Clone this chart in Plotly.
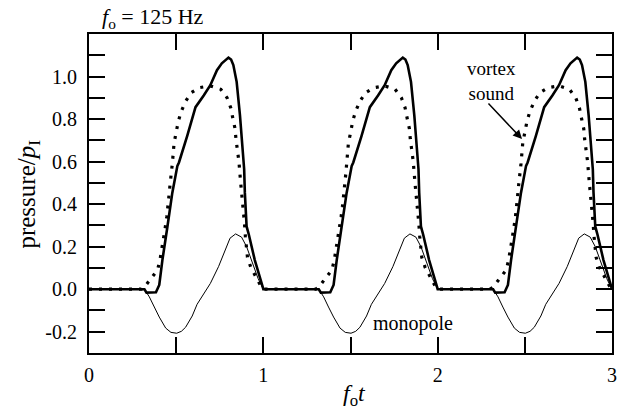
import plotly.graph_objects as go

# One period (0..1); the signal repeats each period
cycles = [0, 1, 2]

solid_x = [0.0, 0.318, 0.33, 0.384, 0.403, 0.421, 0.45, 0.478, 0.507, 0.516, 0.563, 0.611,
           0.658, 0.696, 0.734, 0.762, 0.8, 0.815, 0.828, 0.847, 0.866, 0.879, 0.89, 0.894,
           0.904, 0.917, 0.951, 0.998]
solid_y = [0.0, 0.0, -0.016, -0.014, 0.02, 0.137, 0.295, 0.454, 0.58, 0.596, 0.72, 0.856,
           0.911, 0.959, 1.03, 1.062, 1.089, 1.08, 1.054, 0.975, 0.817, 0.659, 0.564, 0.454,
           0.295, 0.256, 0.137, 0.006]

dot_x = [0.0, 0.30, 0.318, 0.355, 0.393, 0.407, 0.418, 0.427, 0.437, 0.446, 0.454, 0.459,
         0.465, 0.473, 0.478, 0.488, 0.501, 0.512, 0.529, 0.554, 0.586, 0.635, 0.696, 0.756,
         0.792, 0.813, 0.826, 0.838, 0.843, 0.851, 0.86, 0.87, 0.876, 0.881, 0.889, 0.892,
         0.897, 0.904, 0.909, 0.928, 0.957, 0.985, 1.0]
dot_y = [0.0, 0.0, 0.01, 0.047, 0.09, 0.137, 0.188, 0.237, 0.288, 0.34, 0.39, 0.442,
         0.493, 0.542, 0.59, 0.687, 0.738, 0.788, 0.836, 0.883, 0.924, 0.948, 0.956, 0.94,
         0.9, 0.853, 0.80, 0.754, 0.706, 0.655, 0.6, 0.5, 0.454, 0.406, 0.355, 0.308,
         0.248, 0.198, 0.15, 0.103, 0.058, 0.016, 0.0]

mono_x = [0.0, 0.318, 0.346, 0.374, 0.403, 0.44, 0.47, 0.503, 0.53, 0.554, 0.592, 0.62, 0.648,
          0.696, 0.743, 0.781, 0.809, 0.841, 0.875, 0.904, 0.936, 0.97, 0.998]
mono_y = [0.0, 0.0, -0.036, -0.084, -0.131, -0.183, -0.203, -0.207, -0.198, -0.179, -0.126,
          -0.071, -0.036, 0.027, 0.106, 0.185, 0.24, 0.26, 0.245, 0.2, 0.122, 0.05, 0.003]

x_ticks = [0, 0.5, 1, 1.5, 2, 2.5, 3]
x_labels = ["0", "", "1", "", "2", "", "3"]
y_ticks = [-0.3, -0.2, -0.1, 0.0, 0.1, 0.2, 0.3, 0.4, 0.5, 0.6, 0.7, 0.8, 0.9, 1.0, 1.1, 1.2]
y_labels = ["", "-0.2", "", "0.0", "", "0.2", "", "0.4", "", "0.6", "", "0.8", "", "1.0", "", ""]


def tile(xs, ys):
    X, Y = [], []
    for c in cycles:
        X += [x + c for x in xs]
        Y += ys
    return X, Y


FONT = "Liberation Serif"
fig = go.Figure()

mx, my = tile(mono_x, mono_y)
fig.add_trace(go.Scatter(x=mx, y=my, mode="lines", line=dict(color="black", width=1.0)))
dx, dy = tile(dot_x, dot_y)
fig.add_trace(go.Scatter(x=dx, y=dy, mode="lines",
                         line=dict(color="black", width=3.2, dash="3px,7px")))
sx, sy = tile(solid_x, solid_y)
fig.add_trace(go.Scatter(x=sx, y=sy, mode="lines", line=dict(color="black", width=2.6)))

axis_common = dict(showline=True, linecolor="black", linewidth=2, mirror="ticks",
                   ticks="inside", ticklen=16, tickwidth=2, tickcolor="black",
                   showgrid=False, zeroline=False,
                   tickfont=dict(family=FONT, size=20, color="black"))

fig.update_xaxes(range=[0, 3], tickvals=x_ticks, ticktext=x_labels,
                 ticklabelstandoff=3, **axis_common)
fig.update_yaxes(range=[-0.3, 1.2], tickvals=y_ticks, ticktext=y_labels,
                 ticklabelstandoff=6, **axis_common)

annots = [
    dict(text="<i>f</i><sub>o</sub> = 125 Hz", x=100, y=18, xanchor="left", size=22),
    dict(text="<i>f</i><sub>o</sub><i>t</i>", x=357, y=395, xanchor="center", size=24),
    dict(text="pressure/<i>p</i><sub>I</sub>", x=28, y=194, xanchor="center", size=25,
         textangle=-90),
    dict(text="vortex<br>sound", x=495, y=81, xanchor="center", size=19),
    dict(text="monopole", x=416, y=323, xanchor="center", size=20),
]
for a in annots:
    fig.add_annotation(text=a["text"], xref="paper", yref="paper",
                       x=(a["x"] - 89) / (617 - 89), y=(353 - a["y"]) / (353 - 34),
                       xanchor=a["xanchor"], yanchor="middle", showarrow=False,
                       textangle=a.get("textangle", 0),
                       font=dict(family=FONT, size=a["size"], color="black"))

fig.add_annotation(text="", x=2.484, y=0.706, xref="x", yref="y", ax=-35, ay=-37,
                   showarrow=True, arrowhead=2, arrowsize=1.2, arrowwidth=1.5, arrowcolor="black")

fig.update_layout(width=622, height=415, margin=dict(l=89, r=5, t=34, b=62),
                  plot_bgcolor="white", paper_bgcolor="white", showlegend=False)

fig.write_html("out.html")
